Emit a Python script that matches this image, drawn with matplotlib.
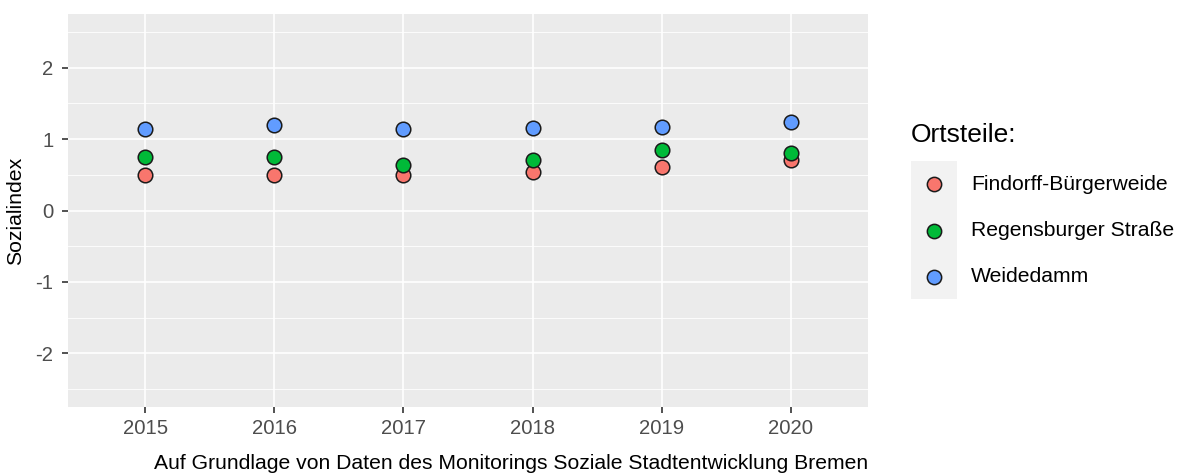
import matplotlib
matplotlib.use("Agg")
import matplotlib.pyplot as plt
from matplotlib.patches import Rectangle
from matplotlib.lines import Line2D

plt.rcParams['font.family'] = ['Liberation Sans', 'DejaVu Sans']

years = ["2015", "2016", "2017", "2018", "2019", "2020"]
series_names = ["Findorff-Bürgerweide", "Regensburger Straße", "Weidedamm"]
findorff = [0.49, 0.49, 0.50, 0.535, 0.61, 0.70]
regensburger = [0.745, 0.745, 0.63, 0.70, 0.84, 0.81]
weidedamm = [1.14, 1.19, 1.14, 1.16, 1.17, 1.245]
colors = ["#F8766D", "#00BA38", "#619CFF"]
y_ticks = [-2, -1, 0, 1, 2]
legend_title = "Ortsteile:"
y_label = "Sozialindex"
caption = "Auf Grundlage von Daten des Monitorings Soziale Stadtentwicklung Bremen"

W, H = 1177, 475
fig = plt.figure(figsize=(W / 100, H / 100), dpi=100)
L, R, T, B = 68, 868, 14, 407
ax = fig.add_axes([L / W, 1 - B / H, (R - L) / W, (B - T) / H])
ax.set_facecolor("#EBEBEB")
for s in ax.spines.values():
    s.set_visible(False)

x = list(range(len(years)))
ax.set_xlim(-0.6, len(years) - 1 + 0.6)
ax.set_ylim(-2.75, 2.75)

# grid
for yv in [-2.5, -1.5, -0.5, 0.5, 1.5, 2.5]:
    ax.axhline(yv, color="white", lw=0.6, zorder=1)
for yv in y_ticks:
    ax.axhline(yv, color="white", lw=1.2, zorder=1)
for xv in x:
    ax.axvline(xv, color="white", lw=1.2, zorder=1)

for vals, c in zip([findorff, regensburger, weidedamm], colors):
    ax.scatter(x, vals, s=110, color=c, edgecolors="#1a1a1a", linewidths=1.1, zorder=3)

ax.set_xticks(x)
ax.set_xticklabels(years)
ax.set_yticks(y_ticks)
ax.set_yticklabels([str(v) for v in y_ticks])
ax.tick_params(axis="both", length=4, width=1.2, color="#333333",
               labelcolor="#4D4D4D", labelsize=14.6)
ax.tick_params(axis="y", pad=6.5)
ax.tick_params(axis="x", pad=4.5)
ax.set_ylabel(y_label, fontsize=15.3, color="black")
ax.yaxis.set_label_coords((25 - L) / (R - L), 0.5)

# legend (manual)
ft = fig.transFigure
def fx(px):
    return px / W
def fy(py):
    return 1 - py / H

fig.text(fx(911), fy(135), legend_title, fontsize=19, color="black",
         ha="left", va="center", transform=ft)
fig.patches.append(Rectangle((fx(911), fy(299)), fx(957) - fx(911), fy(161) - fy(299),
                             transform=ft, facecolor="#F2F2F2", edgecolor="none"))
for i, (name, c) in enumerate(zip(series_names, colors)):
    yy = 184 + i * 46.5
    fig.lines.append(Line2D([fx(934)], [fy(yy)], transform=ft, marker="o", markersize=10.3,
                            markerfacecolor=c, markeredgecolor="#1a1a1a", markeredgewidth=1.1,
                            linestyle="none"))
    fig.text(fx(971), fy(yy), name, fontsize=15.2, color="black", ha="left",
             va="center", transform=ft)

fig.text(fx(868), fy(469), caption, fontsize=15.2, color="black", ha="right",
         va="baseline", transform=ft)

fig.savefig("out.png", dpi=100, facecolor="white")
